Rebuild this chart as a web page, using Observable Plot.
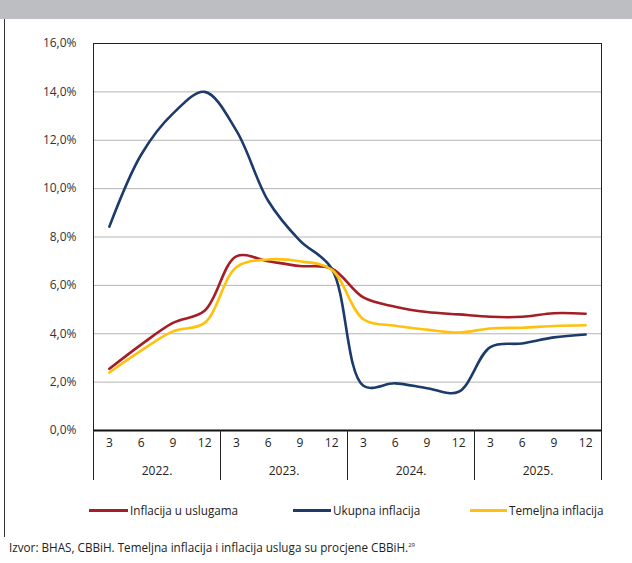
<!DOCTYPE html>
<html><head><meta charset="utf-8">
<script src="https://cdn.jsdelivr.net/npm/d3@7"></script>
<script src="https://cdn.jsdelivr.net/npm/@observablehq/plot@0.6"></script>
<style>
body{margin:0;background:#fff;font-family:"Open Sans",sans-serif;color:#222}
#page{position:relative;width:632px;height:563px;overflow:hidden;background:#fff}
#band{position:absolute;left:0;top:0;width:632px;height:19px;background:#bdbec1}
#border{position:absolute;left:4px;top:19px;width:1px;height:518px;background:#333}
#chart{position:absolute;left:0;top:19px}
.lg{position:absolute;top:501px;font-size:11.7px;white-space:nowrap;display:flex;align-items:center;height:18px}
.sw{display:inline-block;height:3px;margin-right:2px}
#source{position:absolute;left:9px;top:539px;font-size:11.7px;white-space:nowrap}
#source sup{font-size:6px;vertical-align:5px}
</style></head>
<body>
<div id="page">
  <div id="band"></div>
  <div id="border"></div>
  <div id="chart"></div>
  <div id="legend"></div>
  <div id="source">Izvor: BHAS, CBBiH. Temeljna inflacija i inflacija usluga su procjene CBBiH.<sup>29</sup></div>
</div>
<script>
const months = ["3","6","9","12","3","6","9","12","3","6","9","12","3","6","9","12"];
const years = ["2022.","2023.","2024.","2025."];
const seriesNames = ["Inflacija u uslugama","Ukupna inflacija","Temeljna inflacija"];
const seriesColors = ["#a51d25","#1c3a6a","#ffc10e"];
const usluge   = [2.55,3.55,4.45,4.95, 7.2,7.0,6.8,6.7, 5.5,5.12,4.9,4.8, 4.7,4.7,4.85,4.83];
const ukupna   = [8.43,11.4,13.1,14.0, 12.4,9.5,7.85,6.7, 1.85,1.95,1.75,1.6, 3.45,3.6,3.85,3.97];
const temeljna = [2.4,3.3,4.1,4.45, 6.75,7.07,7.0,6.65, 4.6,4.33,4.17,4.05, 4.22,4.25,4.32,4.35];
const yTicks = [0,2,4,6,8,10,12,14,16];

const seriesValues = [usluge, ukupna, temeljna];
const data = [];
seriesValues.forEach((vals, s) => vals.forEach((v, i) => data.push({i, v, s: seriesNames[s]})));
const idx = months.map((_, i) => i);
const yearIdx = years.map((_, k) => k);
const bounds = [-0.5, 3.5, 7.5, 11.5, 15.5];

const fmt = d => d.toFixed(1).replace(".", ",") + "%";

const chart = Plot.plot({
  width: 632,
  height: 470,
  marginTop: 24,
  marginBottom: 59,
  marginLeft: 93,
  marginRight: 31,
  style: {fontFamily: "'Open Sans', sans-serif", fontSize: "12px", color: "#333", background: "transparent"},
  x: {type: "linear", domain: [-0.5, 15.5], axis: null},
  y: {domain: [0, 16], axis: null},
  color: {domain: seriesNames, range: seriesColors},
  marks: [
    Plot.ruleY(yTicks.filter(d => d > 0 && d < 16), {stroke: "#b4b4b4", strokeWidth: 1}),
    Plot.axisY({ticks: yTicks, tickFormat: fmt, tickSize: 0, tickPadding: 17, fontSize: 12, fill: "#333", label: null}),
    Plot.frame({stroke: "#222", strokeWidth: 1}),
    Plot.line(data, {x: "i", y: "v", z: "s", stroke: "s", strokeWidth: 2.6, curve: "catmull-rom"}),
    Plot.ruleY([0], {stroke: "#111", strokeWidth: 2}),
    Plot.ruleX(bounds, {x: d => d, stroke: "#222", strokeWidth: 1, insetTop: 387, insetBottom: -50}),
    Plot.text(idx, {x: d => d, text: d => months[d], frameAnchor: "bottom", dy: 16, fontSize: 12, fill: "#222"}),
    Plot.text(yearIdx, {x: k => k * 4 + 1.5, text: k => years[k], frameAnchor: "bottom", dy: 44, fontSize: 12, fill: "#222"})
  ]
});
document.getElementById("chart").appendChild(chart);

const legendPos = [[89, 39], [293, 38], [470, 37]];
const lg = document.getElementById("legend");
seriesNames.forEach((name, s) => {
  const sw = document.createElement("div");
  sw.className = "lg";
  sw.style.left = legendPos[s][0] + "px";
  sw.innerHTML = `<span class="sw" style="width:${legendPos[s][1]}px;background:${seriesColors[s]}"></span><span>${name}</span>`;
  lg.appendChild(sw);
});
</script>
</body></html>
